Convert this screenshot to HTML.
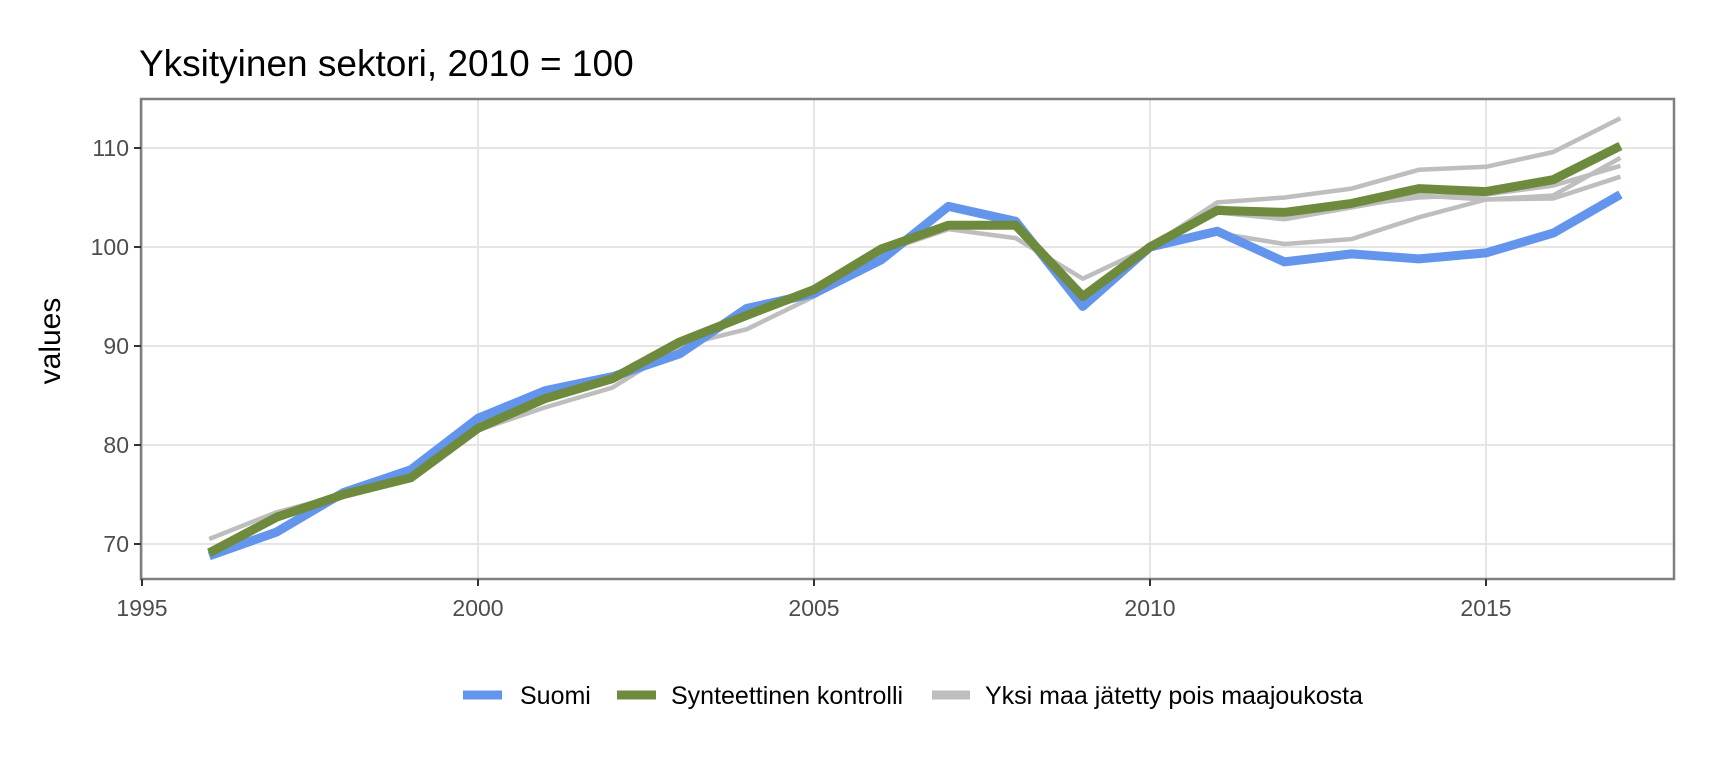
<!DOCTYPE html>
<html><head><meta charset="utf-8"><style>
body{margin:0;background:#fff;}
svg{display:block;font-family:"Liberation Sans",Arial,sans-serif;}
</style></head><body>
<svg id="chart" width="1728" height="768" viewBox="0 0 1728 768">
<text x="139" y="76" font-size="37" fill="#000">Yksityinen sektori, 2010 = 100</text>
<text transform="translate(60,341) rotate(-90)" text-anchor="middle" font-size="30" fill="#000">values</text>
<g id="grid"></g>
<g id="series"></g>
<rect x="141" y="99" width="1533" height="480" fill="none" stroke="#7f7f7f" stroke-width="2.5"/>
<g id="axes"></g>
<g>
<g><line x1="463" y1="695" x2="502" y2="695" stroke="#6495ED" stroke-width="9"/><text x="520" y="704" font-size="25">Suomi</text></g>
<g><line x1="617" y1="695" x2="656" y2="695" stroke="#6E8B3D" stroke-width="9"/><text x="671" y="704" font-size="25">Synteettinen kontrolli</text></g>
<g><line x1="932" y1="695" x2="970" y2="695" stroke="#BEBEBE" stroke-width="9"/><text x="985" y="704" font-size="25">Yksi maa jätetty pois maajoukosta</text></g>
</g>
</svg>
<script>
const years=[1996,1997,1998,1999,2000,2001,2002,2003,2004,2005,2006,2007,2008,2009,2010,2011,2012,2013,2014,2015,2016,2017];
const suomi=[68.8,71.2,75.2,77.5,82.7,85.5,86.9,89.2,93.8,95.3,98.7,104.1,102.6,94.0,100,101.6,98.5,99.3,98.8,99.4,101.4,105.3];
const synth=[69.1,72.7,75.0,76.7,81.7,84.7,86.7,90.4,93.1,95.7,99.8,102.2,102.2,95.0,100,103.7,103.5,104.4,105.9,105.6,106.8,110.2];
const grey1=[69.3,72.9,75.0,76.8,81.8,84.8,86.8,90.3,93.0,95.6,99.7,102.3,102.1,95.2,100,104.5,105.0,105.9,107.8,108.1,109.6,113.0];
const grey2=[69.0,72.6,75.1,76.6,81.6,84.6,86.6,90.5,93.2,95.8,99.9,102.1,102.3,94.9,100,103.5,102.8,104.0,105.2,104.8,105.2,109.0];
const grey3=[69.2,72.8,74.9,76.7,81.7,84.7,86.7,90.3,93.1,95.7,99.8,102.2,102.2,95.1,100,101.4,100.3,100.8,103.0,104.8,104.9,107.1];
const grey4=[70.5,73.2,75.0,76.9,81.5,83.8,85.8,90.0,91.7,95.0,99.5,101.8,100.9,96.8,100,104.0,103.3,104.2,105.0,105.3,106.2,108.2];
const yTicks=[70,80,90,100,110];
const xTicks=[1995,2000,2005,2010,2015];
const NS="http://www.w3.org/2000/svg";
const X=v=>142+(v-1995)*67.2;
const Y=v=>148+(110-v)*9.9;
const grid=document.getElementById('grid'),axes=document.getElementById('axes'),ser=document.getElementById('series');
function mk(tag,attrs,parent){const e=document.createElementNS(NS,tag);for(const k in attrs)e.setAttribute(k,attrs[k]);parent.appendChild(e);return e;}
yTicks.forEach(t=>{
 const g=mk('line',{x1:141,x2:1674,y1:Y(t),y2:Y(t),stroke:'#e5e5e5','stroke-width':2},grid);
 
 
 const tk=mk('line',{x1:134,x2:141,y1:Y(t),y2:Y(t),stroke:'#333','stroke-width':2},axes);
 
 
 const tx=mk('text',{x:129,y:Y(t)+8,'text-anchor':'end','font-size':23,fill:'#4d4d4d'},axes);
 tx.textContent=t;
 
 
});
xTicks.forEach(t=>{
 const g=mk('line',{x1:X(t),x2:X(t),y1:99,y2:579,stroke:'#e5e5e5','stroke-width':2},grid);
 
 
 const tk=mk('line',{x1:X(t),x2:X(t),y1:579,y2:586,stroke:'#333','stroke-width':2},axes);
 
 
 const tx=mk('text',{x:X(t),y:616,'text-anchor':'middle','font-size':23,fill:'#4d4d4d'},axes);
 tx.textContent=t;
 
 
});
function line(vals,color,w,name){
 const d=vals.map((v,i)=>(i?'L':'M')+X(years[i]).toFixed(1)+','+Y(v).toFixed(1)).join('');
 const p=mk('path',{d:d,fill:'none',stroke:color,'stroke-width':w,'stroke-linejoin':'round'},ser);
 
 
}
line(grey1,'#BEBEBE',4.5,'leave-one-out-line-1');
line(grey2,'#BEBEBE',4.5,'leave-one-out-line-2');
line(grey3,'#BEBEBE',4.5,'leave-one-out-line-3');
line(grey4,'#BEBEBE',4.5,'leave-one-out-line-4');
line(suomi,'#6495ED',9,'suomi-line');
line(synth,'#6E8B3D',9,'synthetic-control-line');
</script>
</body></html>
